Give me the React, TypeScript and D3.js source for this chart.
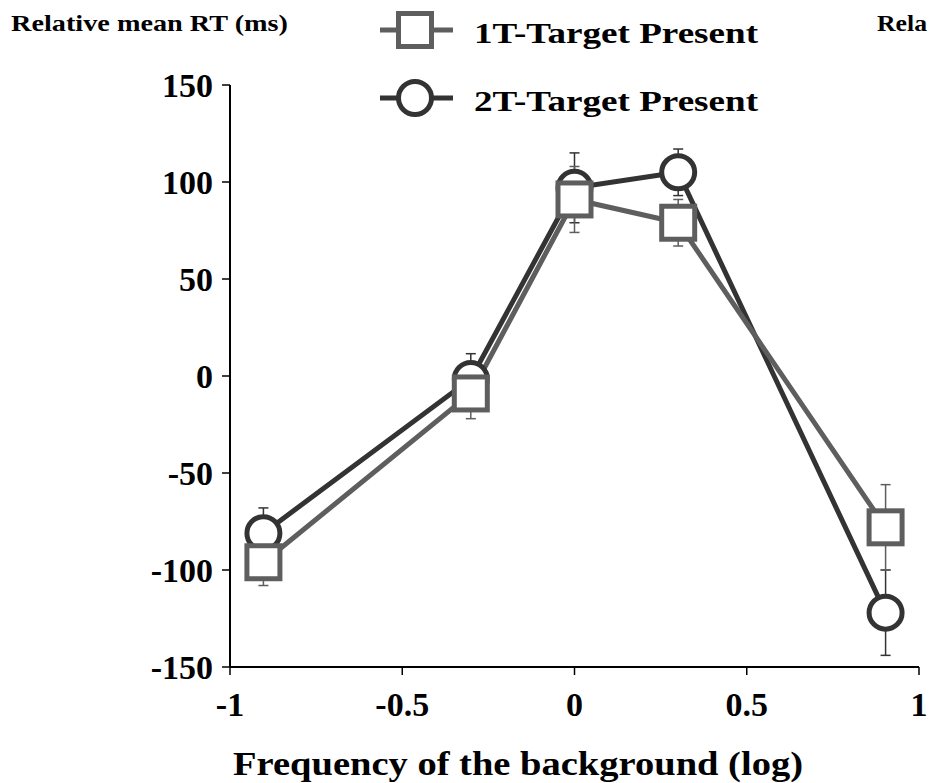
import React from 'react'
import { scaleLinear, line } from 'd3'

const width = 929
const height = 783

const xValues = [-0.903, -0.301, 0, 0.301, 0.903]
const oneTMeans = [-96, -9, 91, 79, -78]
const oneTErrors = [12, 13, 17, 12, 22]
const twoTMeans = [-81, -1.5, 97, 105, -122]
const twoTErrors = [13, 13, 18, 12, 22]
const yTicks = [150, 100, 50, 0, -50, -100, -150]
const xTicks = [-1, -0.5, 0, 0.5, 1]
const xTickLabels = ['-1', '-0.5', '0', '0.5', '1']

const x = scaleLinear().domain([-1, 1]).range([230, 919])
const y = scaleLinear().domain([-150, 150]).range([667, 85])

const font = '"Liberation Serif", "Times New Roman", serif'
const gray = '#5e5e5e'
const dark = '#333333'

const series = [
  { name: '2T-Target Present', means: twoTMeans, errors: twoTErrors, color: dark, shape: 'circle' },
  { name: '1T-Target Present', means: oneTMeans, errors: oneTErrors, color: gray, shape: 'square' },
]

const Marker = ({ cx, cy, shape, color }) =>
  shape === 'square'
    ? <rect x={cx - 16.5} y={cy - 16.5} width={33} height={33} fill="white" stroke={color} strokeWidth={5} />
    : <circle cx={cx} cy={cy} r={16.5} fill="white" stroke={color} strokeWidth={5} />

export default function App() {
  const path = line<number>()
    .x((d, i) => x(xValues[i]))
    .y(d => y(d))

  return (
    <svg width={width} height={height} style={{ position: 'absolute', left: 0, top: 0 }} fontFamily={font} fontWeight="bold">
      <rect width={width} height={height} fill="white" />
      <text x={11} y={31} fontSize={24} textLength={277} lengthAdjust="spacingAndGlyphs">Relative mean RT (ms)</text>
      <text x={877} y={31} fontSize={24} textLength={50} lengthAdjust="spacingAndGlyphs">Rela</text>

      {/* axes */}
      <line x1={x(-1)} x2={x(-1)} y1={y(150)} y2={y(-150)} stroke="black" strokeWidth={2} />
      <line x1={x(-1)} x2={x(1)} y1={y(-150)} y2={y(-150)} stroke="black" strokeWidth={2} />
      {yTicks.map(t => (
        <g key={t}>
          <line x1={x(-1) - 8} x2={x(-1)} y1={y(t)} y2={y(t)} stroke="black" strokeWidth={1.5} />
          <text x={213} y={y(t) + 12} textAnchor="end" fontSize={34}>{t}</text>
        </g>
      ))}
      {xTicks.map((t, i) => (
        <g key={t}>
          <line x1={x(t)} x2={x(t)} y1={y(-150)} y2={y(-150) + 8} stroke="black" strokeWidth={1.5} />
          <text x={x(t)} y={716} textAnchor="middle" fontSize={34}>{xTickLabels[i]}</text>
        </g>
      ))}
      <text x={233} y={775} fontSize={33} textLength={570} lengthAdjust="spacingAndGlyphs">Frequency of the background (log)</text>

      {/* lines */}
      {series.map(s => (
        <path key={s.name} d={path(s.means)} fill="none" stroke={s.color} strokeWidth={5} />
      ))}
      {/* error bars */}
      {series.map(s => s.means.map((m, i) => {
        const cx = x(xValues[i])
        return (
          <g key={s.name + i} stroke={s.color} strokeWidth={1.5}>
            <line x1={cx} x2={cx} y1={y(m + s.errors[i])} y2={y(m - s.errors[i])} />
            <line x1={cx - 5} x2={cx + 5} y1={y(m + s.errors[i])} y2={y(m + s.errors[i])} />
            <line x1={cx - 5} x2={cx + 5} y1={y(m - s.errors[i])} y2={y(m - s.errors[i])} />
          </g>
        )
      }))}
      {/* markers */}
      {series.map(s => s.means.map((m, i) => (
        <Marker key={s.name + i} cx={x(xValues[i])} cy={y(m)} shape={s.shape} color={s.color} />
      )))}

      {/* legend */}
      {[series[1], series[0]].map((s, i) => (
        <g key={s.name} transform={`translate(0,${30 + i * 68})`}>
          <line x1={380} x2={453} y1={0} y2={0} stroke={s.color} strokeWidth={5} />
          <Marker cx={415} cy={0} shape={s.shape} color={s.color} />
          <text x={474} y={13} fontSize={29} textLength={284} lengthAdjust="spacingAndGlyphs">{s.name}</text>
        </g>
      ))}
    </svg>
  )
}
